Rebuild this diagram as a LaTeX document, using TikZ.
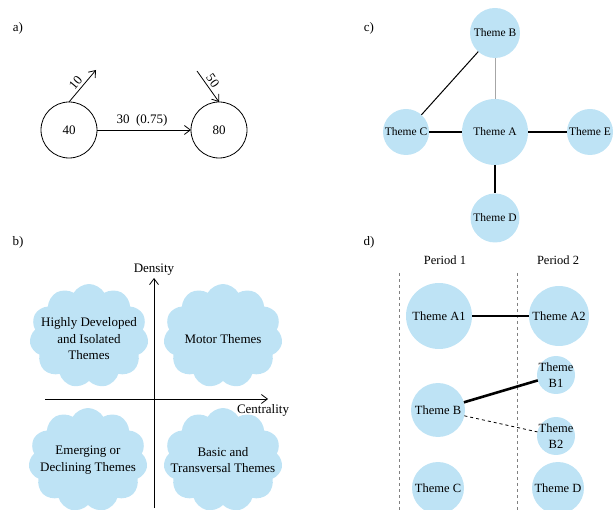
\documentclass[tikz,border=0pt]{standalone}
\usepackage{fontspec}
\setmainfont{Liberation Serif}
\usetikzlibrary{shapes.symbols,arrows.meta}
\definecolor{tb}{RGB}{190,227,245}
\begin{document}
\begin{tikzpicture}[x=1pt,y=-1pt,
  th/.style={circle,fill=tb,inner sep=0pt,outer sep=0pt,minimum size=#1},
  ring/.style={circle,draw,line width=0.8pt,inner sep=0pt,outer sep=0pt,minimum size=#1},
  cl/.style={cloud,cloud puffs=11,cloud puff arc=120,cloud ignores aspect,fill=tb,
     minimum width=119pt,minimum height=104pt,inner sep=0pt},
  fa/.style={font=\fontsize{13}{16}\selectfont},
  fb/.style={font=\fontsize{13}{16.5}\selectfont,align=center},
  fc/.style={font=\fontsize{11.5}{14}\selectfont},
  fd/.style={font=\fontsize{12.5}{16}\selectfont,align=center},
  arr/.style={-{Straight Barb[length=6pt,width=9pt]},line width=0.8pt},
  edge/.style={line width=#1},
  vdash/.style={gray,dashed,line width=0.7pt},
]
\useasboundingbox (0,0) rectangle (613,510);

% ---------- panel a ----------
\node[fa] (la) at (18,28) {a)};
\node[ring=56pt,fa] (c40) at (69,130) {40};
\node[ring=56pt,fa] (c80) at (219,130) {80};
\draw[arr] (c40) -- node[above,fa,pos=0.48] {30\ \ (0.75)} (c80);
\coordinate (o10) at (96,70);
\coordinate (i50) at (197,71);
\draw[arr] (c40.north) -- node[sloped,above,fa,pos=0.45,inner sep=2.5pt] {10} (o10);
\draw[arr] (i50) -- node[sloped,above,fa,pos=0.45,inner sep=2.5pt] {50} (c80.north);

% ---------- panel b ----------
\node[fa] (lb) at (18,242) {b)};
\node[cl,label={[fb,yshift=-3pt]center:{Highly Developed\\and Isolated\\Themes}}] (q1) at (89,336) {};
\node[cl,label={[fb,yshift=-3pt]center:{Motor Themes}}] (q2) at (223,336) {};
\node[cl,label={[fb]center:{Emerging or\\Declining Themes}}] (q3) at (88,460) {};
\node[cl,label={[fb]center:{Basic and\\Transversal Themes}}] (q4) at (223,460) {};
\coordinate (vb) at (154,508);
\coordinate (vt) at (154,278);
\coordinate (hl) at (45,399);
\coordinate (hr) at (268,399);
\draw[arr] (vb) -- (vt);
\draw[arr] (hl) -- (hr);
\node[fa] (dens) at (154,270) {Density};
\node[fa] (cent) at (263,410) {Centrality};

% ---------- panel c ----------
\node[fa] (lc) at (369,28) {c)};
\node[th=50pt,fc] (B) at (495,33) {Theme B};
\node[th=66pt,fc] (A) at (495,132) {Theme A};
\node[th=46pt,fc] (C) at (406,132) {Theme C};
\node[th=46pt,fc] (E) at (590,132) {Theme E};
\node[th=49pt,fc] (D) at (495,218) {Theme D};
\draw[edge=0.8pt,gray!70] (B) -- (A);
\draw[edge=1pt] (B) -- (C);
\draw[edge=1.1pt] (C) -- (A);
\draw[edge=1.1pt] (A) -- (E);
\draw[edge=2.6pt] (A) -- (D);

% ---------- panel d ----------
\node[fa] (ld) at (369,242) {d)};
\node[fd] (p1) at (445,260) {Period 1};
\node[fd] (p2) at (558,260) {Period 2};
\coordinate (d1t) at (399,273);
\coordinate (d1b) at (399,510);
\coordinate (d2t) at (517,273);
\coordinate (d2b) at (517,510);
\draw[vdash] (d1t) -- (d1b);
\draw[vdash] (d2t) -- (d2b);
\node[th=66pt,fd] (A1) at (439,316) {Theme A1};
\node[th=60pt,fd] (A2) at (559,316) {Theme A2};
\node[th=38pt,label={[fd]center:{Theme\\B1}}] (B1) at (556,375) {};
\node[th=54pt,fd] (Bd) at (438,410) {Theme B};
\node[th=38pt,label={[fd]center:{Theme\\B2}}] (B2) at (556,436) {};
\node[th=52pt,fd] (Cd) at (438,488) {Theme C};
\node[th=52pt,fd] (Dd) at (558,488) {Theme D};
\draw[edge=2.6pt] (A1) -- (A2);
\draw[edge=2.6pt] (Bd) -- (B1);
\draw[edge=0.8pt,dashed] (Bd) -- (B2);
\end{tikzpicture}
\end{document}
